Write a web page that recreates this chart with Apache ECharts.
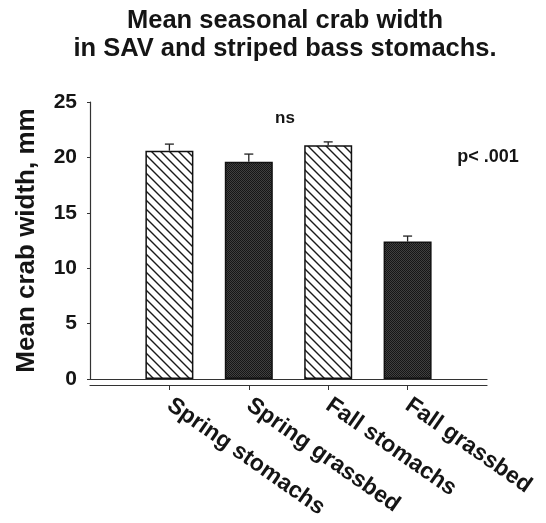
<!DOCTYPE html>
<html>
<head>
<meta charset="utf-8">
<script src="https://cdn.jsdelivr.net/npm/echarts@6/dist/echarts.min.js"></script>
<style>
  html, body { margin: 0; padding: 0; background: #fff; }
  #chart { width: 546px; height: 523px; }
</style>
</head>
<body>
<div id="chart"></div>
<script>
// values
var categories = ['Spring stomachs', 'Spring grassbed', 'Fall stomachs', 'Fall grassbed'];
var means = [20.6, 19.6, 21.1, 12.4];
var errors = [0.6, 0.7, 0.3, 0.5];
var yTicks = [0, 5, 10, 15, 20, 25];

var FONT = '"Liberation Sans", Arial, Helvetica, sans-serif';
var INK = '#151515';

// hatch pattern (\\\) for stomach bars
function hatchPattern() {
  var s = 9;
  var c = document.createElement('canvas');
  c.width = s; c.height = s;
  var g = c.getContext('2d');
  g.fillStyle = '#fff';
  g.fillRect(0, 0, s, s);
  g.strokeStyle = '#1a1a1a';
  g.lineWidth = 1.4;
  g.beginPath();
  g.moveTo(-1, -1); g.lineTo(s + 1, s + 1);
  g.moveTo(-1, s - 1); g.lineTo(1, s + 1);
  g.moveTo(s - 1, -1); g.lineTo(s + 1, 1);
  g.stroke();
  return { image: c, repeat: 'repeat' };
}

// dark stipple for grassbed bars
function stipplePattern() {
  var c = document.createElement('canvas');
  c.width = 2; c.height = 2;
  var g = c.getContext('2d');
  g.fillStyle = '#404040';
  g.fillRect(0, 0, 2, 2);
  g.fillStyle = '#161616';
  g.fillRect(0, 0, 1, 1);
  g.fillRect(1, 1, 1, 1);
  return { image: c, repeat: 'repeat' };
}

var hatch = hatchPattern();
var stipple = stipplePattern();

// pad the category axis so the bars sit inside a longer baseline
var axisCats = [''].concat(categories).concat(['']);
var barData = [null];
categories.forEach(function (cat, i) {
  barData.push({
    value: means[i],
    itemStyle: { color: cat.indexOf('stomachs') >= 0 ? hatch : stipple }
  });
});
barData.push(null);

var errData = categories.map(function (cat, i) {
  return [i + 1, means[i], errors[i]];
});

var chart = echarts.init(document.getElementById('chart'));

var option = {
  animation: false,
  backgroundColor: '#fff',
  grid: { left: 90, right: 59, top: 102, bottom: 144 },
  xAxis: [
    {
      type: 'category',
      data: axisCats,
      boundaryGap: false,
      axisLine: { lineStyle: { color: '#333', width: 1.2 } },
      axisTick: { show: false },
      axisLabel: { show: false }
    },
    {
      type: 'category',
      data: axisCats,
      boundaryGap: false,
      position: 'bottom',
      offset: 6,
      axisLine: { lineStyle: { color: '#333', width: 1.2 } },
      axisTick: {
        show: true,
        length: 5,
        interval: function (i) { return i > 0 && i < axisCats.length - 1; },
        lineStyle: { color: '#333' }
      },
      axisLabel: {
        rotate: -35,
        margin: 18,
        interval: 0,
        color: INK,
        fontFamily: FONT,
        fontWeight: 'bold',
        fontSize: 23
      }
    }
  ],
  yAxis: {
    type: 'value',
    min: yTicks[0],
    max: yTicks[yTicks.length - 1],
    interval: 5,
    name: 'Mean crab width, mm',
    nameLocation: 'middle',
    nameRotate: 90,
    nameGap: 50,
    nameTextStyle: { color: INK, fontFamily: FONT, fontWeight: 'bold', fontSize: 26 },
    axisLine: { show: true, lineStyle: { color: '#333', width: 1.2 } },
    axisTick: { show: true, length: 3, lineStyle: { color: '#333' } },
    splitLine: { show: false },
    axisLabel: { margin: 13, color: INK, fontFamily: FONT, fontWeight: 'bold', fontSize: 21 }
  },
  series: [
    {
      type: 'bar',
      xAxisIndex: 0,
      data: barData,
      barWidth: 48,
      itemStyle: { borderColor: '#111', borderWidth: 1.5 },
      z: 2
    },
    {
      type: 'custom',
      xAxisIndex: 0,
      data: errData,
      z: 3,
      renderItem: function (params, api) {
        var x = api.value(0);
        var base = api.coord([x, api.value(1)]);
        var top = api.coord([x, api.value(1) + api.value(2)]);
        var style = { stroke: '#222', lineWidth: 1.3 };
        return {
          type: 'group',
          children: [
            { type: 'line', shape: { x1: base[0], y1: base[1], x2: top[0], y2: top[1] }, style: style },
            { type: 'line', shape: { x1: top[0] - 4.5, y1: top[1], x2: top[0] + 4.5, y2: top[1] }, style: style }
          ]
        };
      }
    }
  ],
  graphic: [
    {
      type: 'text', x: 285, y: 7,
      style: {
        text: 'Mean seasonal crab width\nin SAV and striped bass stomachs.',
        font: 'bold 25.5px ' + FONT,
        lineHeight: 28,
        fill: INK,
        align: 'center',
        verticalAlign: 'top'
      }
    },
    {
      type: 'text', x: 285, y: 118,
      style: { text: 'ns', font: 'bold 17px ' + FONT, fill: INK, align: 'center', verticalAlign: 'middle' }
    },
    {
      type: 'text', x: 488, y: 157,
      style: { text: 'p< .001', font: 'bold 18px ' + FONT, fill: INK, align: 'center', verticalAlign: 'middle' }
    }
  ]
};

chart.setOption(option);
</script>
</body>
</html>
